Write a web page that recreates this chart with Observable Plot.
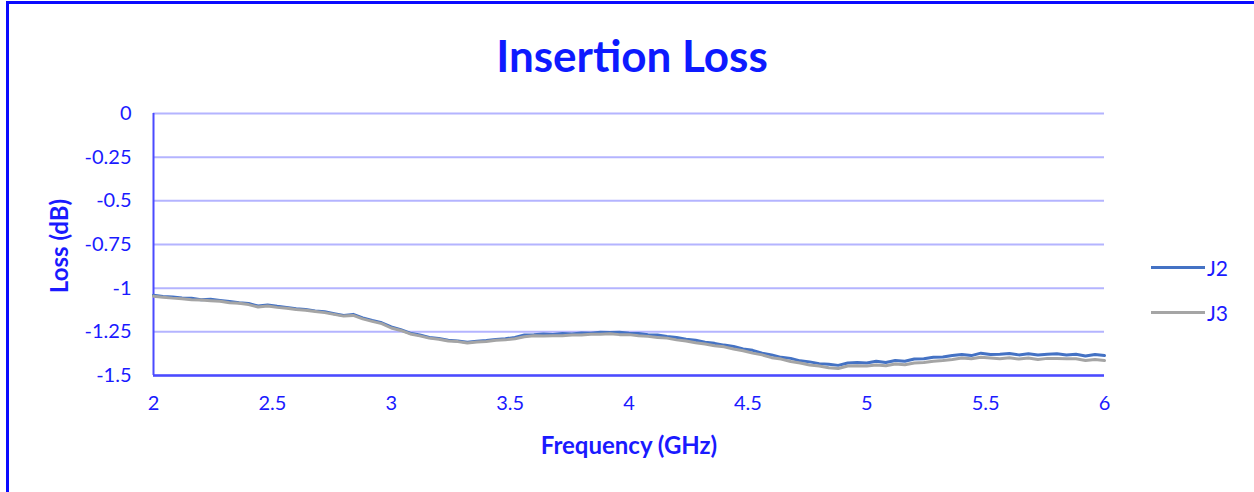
<!DOCTYPE html>
<html><head><meta charset="utf-8">
<script src="https://cdn.jsdelivr.net/npm/d3@7"></script>
<script src="https://cdn.jsdelivr.net/npm/@observablehq/plot@0.6"></script>
<style>
html,body{margin:0;padding:0;background:#fff;overflow:hidden}
#wrap{position:relative;width:1254px;height:492px;font-family:Lato,sans-serif;overflow:hidden}
#border{position:absolute;left:6px;top:1px;width:1400px;height:700px;border-left:3px solid #0a0aff;border-top:3px solid #0a0aff;box-sizing:border-box}
#title{position:absolute;left:632px;top:55px;transform:translate(-50%,-50%);font-size:44px;font-weight:bold;color:#0d1aff;line-height:1;white-space:nowrap}
#ylab{position:absolute;left:59px;top:246px;transform:translate(-50%,-50%) rotate(-90deg);font-size:24px;font-weight:bold;color:#1a1aff;white-space:nowrap;line-height:1}
#xlab{position:absolute;left:629px;top:445px;transform:translate(-50%,-50%);font-size:24px;font-weight:bold;color:#1a1aff;white-space:nowrap;line-height:1}
.lg{position:absolute;height:3px}
.lt{position:absolute;font-size:21px;color:#1a1aff;line-height:1}
#chart{position:absolute;left:0;top:0}
</style>
</head><body>
<div id="wrap">
<div id="border"></div>
<div id="chart"></div>
<div id="title">Insertion Loss</div>
<div id="ylab">Loss (dB)</div>
<div id="xlab">Frequency (GHz)</div>
<div class="lg" style="left:1151px;top:266px;width:54px;background:#4472C4"></div>
<div class="lt" style="left:1207px;top:257px">J2</div>
<div class="lg" style="left:1151px;top:311px;width:54px;background:#A5A5A5"></div>
<div class="lt" style="left:1207px;top:302px">J3</div>
</div>
<script>
const seriesNames = ["J2", "J3"];
const xTicks = [2, 2.5, 3, 3.5, 4, 4.5, 5, 5.5, 6];
const yTicks = [0, -0.25, -0.5, -0.75, -1, -1.25, -1.5];
// frequency samples, GHz (2.00 to 6.00 in 0.04 steps)
const freq = d3.range(101).map(i => +(2 + i * 0.04).toFixed(2));
const J2 = [
 -1.040,-1.047,-1.050,-1.056,-1.058,-1.066,-1.063,-1.070,-1.076,-1.083,
 -1.088,-1.102,-1.096,-1.104,-1.110,-1.118,-1.122,-1.130,-1.135,-1.146,
 -1.156,-1.150,-1.170,-1.185,-1.198,-1.222,-1.238,-1.258,-1.268,-1.282,
 -1.288,-1.298,-1.302,-1.310,-1.304,-1.300,-1.294,-1.290,-1.282,-1.268,
 -1.266,-1.262,-1.265,-1.260,-1.262,-1.256,-1.258,-1.252,-1.254,-1.252,
 -1.258,-1.260,-1.266,-1.268,-1.276,-1.282,-1.292,-1.298,-1.310,-1.316,
 -1.326,-1.334,-1.348,-1.356,-1.372,-1.382,-1.396,-1.402,-1.416,-1.422,
 -1.432,-1.436,-1.442,-1.428,-1.426,-1.428,-1.418,-1.426,-1.414,-1.418,
 -1.406,-1.404,-1.396,-1.394,-1.386,-1.380,-1.386,-1.372,-1.380,-1.378,
 -1.374,-1.382,-1.376,-1.382,-1.378,-1.376,-1.382,-1.378,-1.388,-1.380,
 -1.386
];
const J3 = [
 -1.046,-1.052,-1.057,-1.060,-1.066,-1.068,-1.072,-1.075,-1.083,-1.086,
 -1.094,-1.108,-1.102,-1.110,-1.115,-1.122,-1.127,-1.134,-1.140,-1.150,
 -1.160,-1.156,-1.176,-1.190,-1.203,-1.228,-1.242,-1.262,-1.273,-1.286,
 -1.293,-1.302,-1.306,-1.314,-1.308,-1.305,-1.298,-1.296,-1.290,-1.278,
 -1.273,-1.274,-1.272,-1.272,-1.268,-1.268,-1.264,-1.264,-1.261,-1.266,
 -1.266,-1.272,-1.276,-1.282,-1.286,-1.296,-1.302,-1.312,-1.320,-1.330,
 -1.336,-1.348,-1.358,-1.372,-1.382,-1.398,-1.406,-1.420,-1.428,-1.440,
 -1.446,-1.456,-1.460,-1.446,-1.444,-1.446,-1.440,-1.444,-1.434,-1.438,
 -1.428,-1.426,-1.418,-1.414,-1.408,-1.400,-1.404,-1.396,-1.400,-1.404,
 -1.398,-1.406,-1.400,-1.408,-1.402,-1.402,-1.404,-1.404,-1.414,-1.408,
 -1.414
];
const colors = ["#4472C4", "#A5A5A5"];

const rows = [];
[J2, J3].forEach((arr, k) => arr.forEach((v, i) => rows.push({f: freq[i], loss: v, s: seriesNames[k]})));

const fmt = d => String(d);
const txt = "#1a1aff";
const chart = Plot.plot({
  width: 1254, height: 492,
  marginLeft: 153, marginRight: 150, marginTop: 113, marginBottom: 117,
  style: {fontFamily: "Lato, sans-serif", fontSize: "20px", background: "transparent", color: txt},
  x: {domain: [2, 6]},
  y: {domain: [-1.5, 0]},
  color: {domain: seriesNames, range: colors},
  marks: [
    Plot.gridY(yTicks, {stroke: "#b4b4ff", strokeOpacity: 1, strokeWidth: 2}),
    Plot.ruleX([2], {stroke: "#4b4bff", strokeWidth: 2}),
    Plot.ruleY([-1.5], {stroke: "#4b4bff", strokeWidth: 2.5}),
    Plot.axisY(yTicks, {tickSize: 0, tickPadding: 22, tickFormat: fmt, label: null, fill: txt}),
    Plot.axisX(xTicks, {tickSize: 0, tickPadding: 20, tickFormat: fmt, label: null, fill: txt}),
    Plot.line(rows.filter(d => d.s === "J2"), {x: "f", y: "loss", stroke: "s", strokeWidth: 3}),
    Plot.line(rows.filter(d => d.s === "J3"), {x: "f", y: "loss", stroke: "s", strokeWidth: 3})
  ]
});
document.getElementById("chart").appendChild(chart);
</script>
</body></html>
